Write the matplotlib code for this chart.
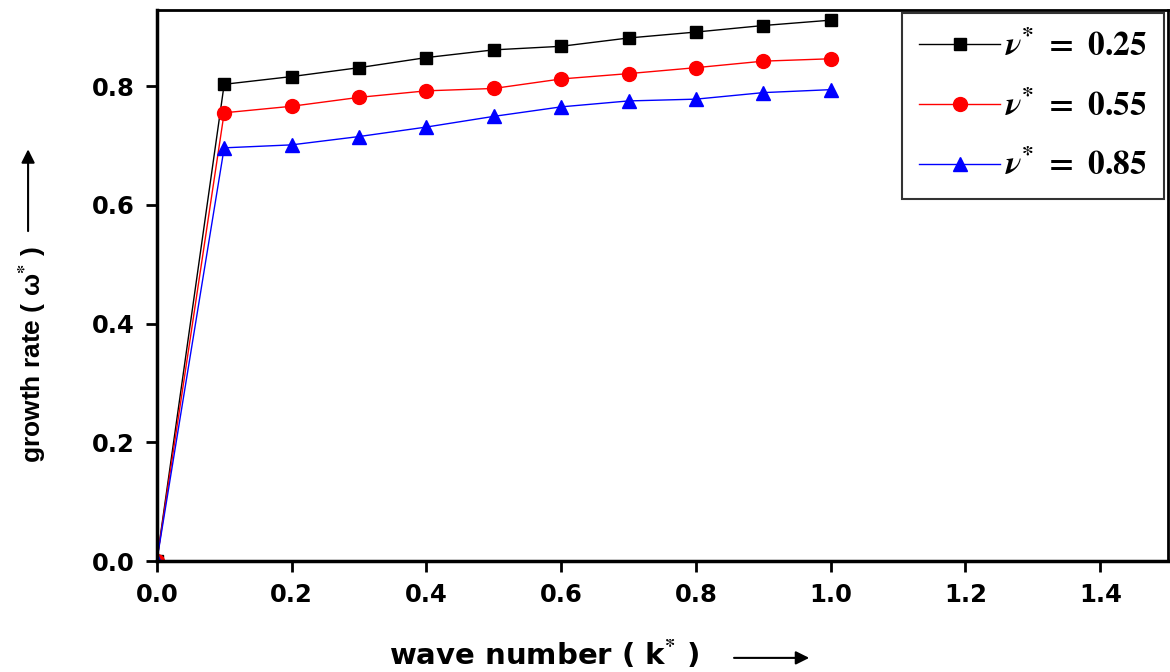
import matplotlib.pyplot as plt

plt.rcParams.update({
    "font.family": "DejaVu Sans",
    "font.weight": "bold",
    "mathtext.fontset": "stix",
})

k = [0.0, 0.1, 0.2, 0.3, 0.4, 0.5, 0.6, 0.7, 0.8, 0.9, 1.0]
w_025 = [0.0, 0.803, 0.816, 0.831, 0.848, 0.861, 0.867, 0.881, 0.891, 0.902, 0.911]
w_055 = [0.0, 0.755, 0.766, 0.781, 0.792, 0.796, 0.812, 0.821, 0.831, 0.842, 0.846]
w_085 = [0.0, 0.696, 0.701, 0.715, 0.731, 0.749, 0.765, 0.775, 0.778, 0.789, 0.794]
labels = [r"$\mathbfit{\nu}^{\mathbf{*}}\mathbf{\ =\ 0.25}$",
          r"$\mathbfit{\nu}^{\mathbf{*}}\mathbf{\ =\ 0.55}$",
          r"$\mathbfit{\nu}^{\mathbf{*}}\mathbf{\ =\ 0.85}$"]

fig = plt.figure(figsize=(11.7, 6.72), dpi=100)
ax = fig.add_axes([0.134, 0.165, 0.864, 0.82])

ax.plot(k, w_025, color="black", marker="s", ms=9, lw=1, label=labels[0])
ax.plot(k, w_055, color="red", marker="o", ms=10, lw=1, label=labels[1])
ax.plot(k, w_085, color="blue", marker="^", ms=10, lw=1, label=labels[2])

ax.set_xlim(0, 1.5)
ax.set_ylim(0, 0.928)
ax.set_xticks([0.0, 0.2, 0.4, 0.6, 0.8, 1.0, 1.2, 1.4])
ax.set_yticks([0.0, 0.2, 0.4, 0.6, 0.8])
ax.xaxis.set_major_formatter(plt.FormatStrFormatter("%.1f"))
ax.yaxis.set_major_formatter(plt.FormatStrFormatter("%.1f"))
ax.tick_params(axis="both", direction="out", length=8, width=2, labelsize=17.5, pad=8)
ax.tick_params(top=False, right=False)
for s in ["left", "bottom"]:
    ax.spines[s].set_linewidth(2.5)
for s in ["top", "right"]:
    ax.spines[s].set_linewidth(2)

leg = ax.legend(loc="upper right", prop={"size": 24}, frameon=True, fancybox=False,
                edgecolor="black", handlelength=2.45, borderaxespad=0.1,
                labelspacing=0.8, handletextpad=0.15, borderpad=0.5)
leg.get_frame().set_linewidth(1.5)

# axis labels with arrows
fig.text(0.465, 0.025, r"wave number ( k$^{\mathbf{*}}$ )", ha="center", va="center",
         fontsize=21, fontweight="bold")
ax.annotate("", xy=(0.694, 0.021), xytext=(0.625, 0.021), xycoords="figure fraction",
            arrowprops=dict(arrowstyle="-|>", color="black", lw=1.5, mutation_scale=20))

fig.text(0.028, 0.473, r"growth rate ( ω$^{*}$ )", rotation=90, ha="center", va="center",
         fontsize=19, fontweight="bold", family="Liberation Sans")
ax.annotate("", xy=(0.024, 0.782), xytext=(0.024, 0.652), xycoords="figure fraction",
            arrowprops=dict(arrowstyle="-|>", color="black", lw=1.5, mutation_scale=20))

fig.savefig("out.png", dpi=100)
